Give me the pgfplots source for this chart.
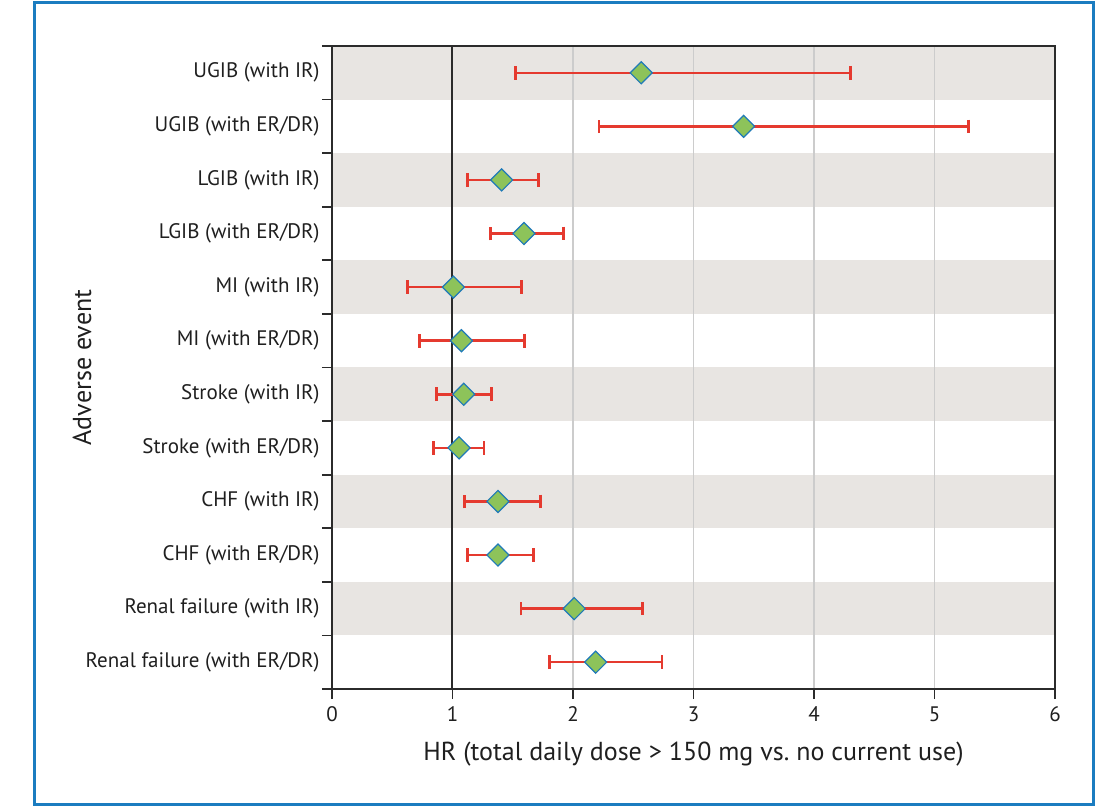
\documentclass[border=0pt]{standalone}
\usepackage{fontspec}
\setmainfont{PT Sans}
\usepackage{pgfplots}
\pgfplotsset{compat=1.18}
\usepackage{pgfplotstable}
\definecolor{band}{HTML}{E8E5E2}
\definecolor{errred}{HTML}{E53A2F}
\definecolor{dgreen}{HTML}{8DC35A}
\definecolor{dblue}{HTML}{1F7AB8}
\definecolor{frameblue}{HTML}{1B7CC0}
\definecolor{gridg}{HTML}{CCCCCC}
\definecolor{axdark}{HTML}{2B2B2B}

\pgfplotstableread{
y  x     ep    em
12 2.566 1.734 1.040
11 3.416 1.864 1.201
10 1.408 0.307 0.283
9  1.593 0.331 0.279
8  1.007 0.567 0.378
7  1.074 0.523 0.351
6  1.093 0.229 0.224
5  1.054 0.208 0.209
4  1.377 0.350 0.280
3  1.377 0.295 0.252
2  2.010 0.564 0.441
1  2.188 0.551 0.382
}\hrdata

\begin{document}
\begin{tikzpicture}
\begin{axis}[
  at={(0,0)}, anchor=south west,
  scale only axis, width=361.5pt, height=321.5pt,
  xmin=0, xmax=6, ymin=0.5, ymax=12.5,
  xtick={0,...,6}, xtick pos=lower,
  tick align=outside, major tick length=5pt,
  ytick={0.5,1.5,...,12.5}, yticklabels={}, ytick pos=left,
  extra y ticks={1,...,12},
  extra y tick labels={Renal failure (with ER/DR),Renal failure (with IR),CHF (with ER/DR),CHF (with IR),Stroke (with ER/DR),Stroke (with IR),MI (with ER/DR),MI (with IR),LGIB (with ER/DR),LGIB (with IR),UGIB (with ER/DR),UGIB (with IR)},
  extra y tick style={major tick length=0pt, tick style={draw=none},
    yticklabel style={anchor=east, inner sep=0pt, xshift=-6pt}},
  axis line style={axdark, line width=0.9pt},
  tick style={axdark, line width=0.9pt},
  axis on top,
  /pgf/number format/assume math mode=true,
  ticklabel style={font=\fontsize{10.5}{12}\selectfont, text=black!88},
  xticklabel style={anchor=north, inner sep=0pt, yshift=-3.5pt},
  xlabel={HR (total daily dose > 150 mg vs.\ no current use)},
  ylabel={Adverse event},
  label style={font=\fontsize{13}{15}\selectfont, text=black!88},
  xlabel style={at={(rel axis cs:0.5,0)}, anchor=center, yshift=-32.5pt},
  ylabel style={at={(rel axis cs:0,0.5)}, anchor=center, yshift=125pt},
]
\fill[band] (axis cs:0,11.5) rectangle (axis cs:6,12.5);
\fill[band] (axis cs:0,9.5) rectangle (axis cs:6,10.5);
\fill[band] (axis cs:0,7.5) rectangle (axis cs:6,8.5);
\fill[band] (axis cs:0,5.5) rectangle (axis cs:6,6.5);
\fill[band] (axis cs:0,3.5) rectangle (axis cs:6,4.5);
\fill[band] (axis cs:0,1.5) rectangle (axis cs:6,2.5);
\draw[gridg, line width=0.6pt] (axis cs:2,0.5) -- (axis cs:2,12.5);
\draw[gridg, line width=0.6pt] (axis cs:3,0.5) -- (axis cs:3,12.5);
\draw[gridg, line width=0.6pt] (axis cs:4,0.5) -- (axis cs:4,12.5);
\draw[gridg, line width=0.6pt] (axis cs:5,0.5) -- (axis cs:5,12.5);
\draw[axdark, line width=1pt] (axis cs:1,0.5) -- (axis cs:1,12.5);
\addplot[draw=none, mark=none, forget plot,
  error bars/.cd, x dir=both, x explicit,
  error bar style={errred, line width=1.25pt},
  error mark=|,
  error mark options={errred, line width=1.4pt, mark size=3.4pt}]
  table[x=x, y=y, x error plus=ep, x error minus=em]{\hrdata};
\addplot[only marks, mark=square*, mark size=3.9pt,
  mark options={rotate=45, fill=dgreen, draw=dblue, line width=0.6pt}]
  table[x=x, y=y]{\hrdata};
\end{axis}
\draw[frameblue, line width=1.5pt] (-148.75pt,-57.5pt) rectangle (380.75pt,343pt);
\path[use as bounding box] (-166pt,-59.5pt) rectangle (382pt,344.5pt);
\end{tikzpicture}
\end{document}
